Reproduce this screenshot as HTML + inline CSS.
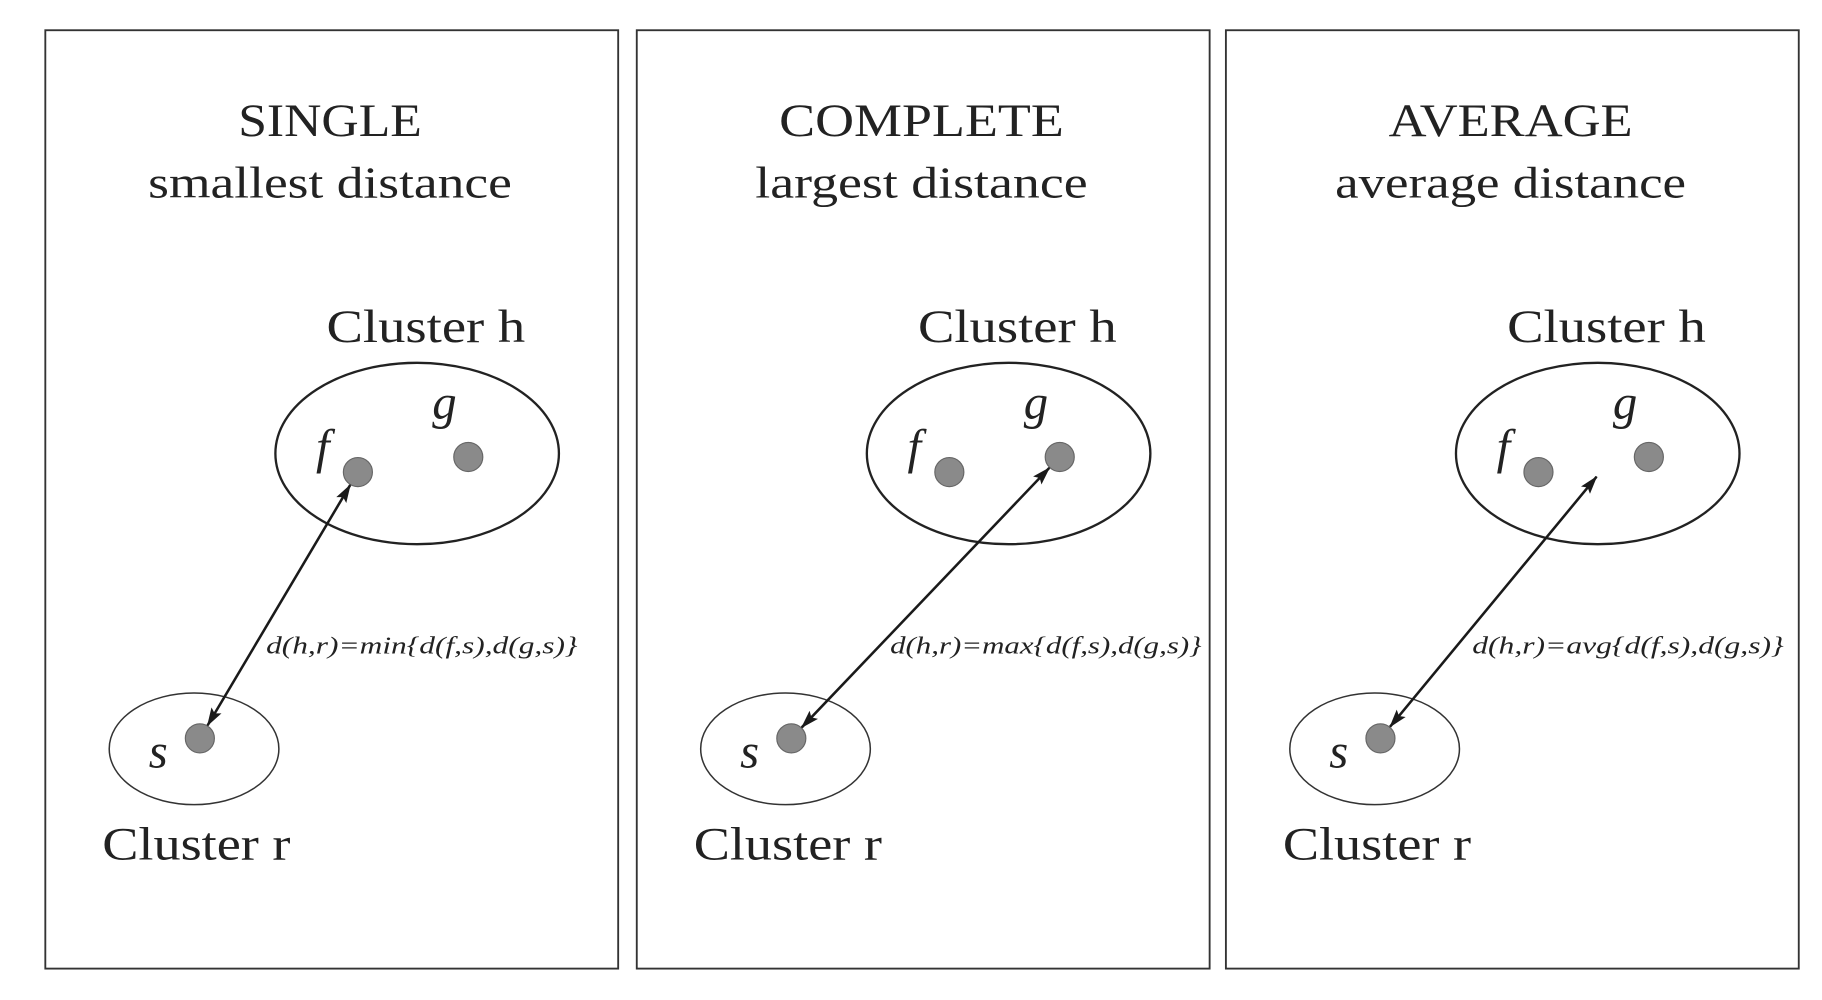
<!DOCTYPE html>
<html><head><meta charset="utf-8"><style>
html,body{margin:0;padding:0;background:#fff;width:1822px;height:1000px;overflow:hidden}
svg{display:block}
text{font-family:"Liberation Serif","DejaVu Serif",serif;fill:#222}
</style></head><body>
<svg id="fig" width="1822" height="1000" viewBox="0 0 1568 860" preserveAspectRatio="none">
<defs>
<marker id="ah" viewBox="0 0 16 10" refX="15" refY="5" markerWidth="16" markerHeight="11" orient="auto-start-reverse" markerUnits="userSpaceOnUse">
<path d="M0,0 L16,5 L0,10 L3,5 z" fill="#1a1a1a"/>
</marker>
</defs>
</svg>
<script>
const titles=["SINGLE","COMPLETE","AVERAGE"];
const subtitles=["smallest distance","largest distance","average distance"];
const funcs=["min","max","avg"];
const panelLefts=[39,548,1055];
const targets=["f","g","mid"];
const titleW=[158,245,210];
const subW=[313,286,302];
const formulaX=[190,218,212];
const svg=document.getElementById('fig');
const NS="http://www.w3.org/2000/svg";
function mk(tag,attrs,txt){const e=document.createElementNS(NS,tag);for(const k in attrs)e.setAttribute(k,attrs[k]);if(txt!==undefined)e.textContent=txt;svg.appendChild(e);return e;}
titles.forEach((t,i)=>{
 const L=panelLefts[i];
 const g=mk('rect',{x:L,y:26,width:493,height:807,fill:'none',stroke:'#333','stroke-width':1.6});
 
 
 let e=mk('text',{x:L+245-titleW[i]/2,y:117,'font-size':40,textLength:titleW[i],lengthAdjust:'spacingAndGlyphs'},t);
 
 
 e=mk('text',{x:L+245-subW[i]/2,y:170,'font-size':38,textLength:subW[i],lengthAdjust:'spacingAndGlyphs'},subtitles[i]);
 
 
 e=mk('text',{x:L+242,y:294,'font-size':40,textLength:171,lengthAdjust:'spacingAndGlyphs'},'Cluster h');
 
 
 e=mk('ellipse',{cx:L+320,cy:390,rx:122,ry:78,fill:'none',stroke:'#222','stroke-width':2});
 
 
 e=mk('ellipse',{cx:L+128,cy:644,rx:73,ry:48,fill:'none',stroke:'#333','stroke-width':1.3});
 
 
 const f={x:L+269,y:406},gg={x:L+364,y:393},s={x:L+133,y:635};
 [[f,'point-f'],[gg,'point-g'],[s,'point-s']].forEach(([p,n])=>{
  e=mk('circle',{cx:p.x,cy:p.y,r:12.5,fill:'#8a8a8a',stroke:'#666','stroke-width':1});
  
  
 });
 e=mk('text',{x:L+233,y:398,'font-size':42,'font-style':'italic'},'f');
 
 
 e=mk('text',{x:L+333,y:360,'font-size':42,'font-style':'italic'},'g');
 
 
 e=mk('text',{x:L+89,y:660,'font-size':42,'font-style':'italic'},'s');
 
 
 e=mk('text',{x:L+49,y:739,'font-size':40,textLength:162,lengthAdjust:'spacingAndGlyphs'},'Cluster r');
 
 
 let tx,ty;
 if(targets[i]==='f'){tx=f.x;ty=f.y;}else if(targets[i]==='g'){tx=gg.x;ty=gg.y;}else{tx=L+319;ty=410;}
 const dx=tx-s.x,dy=ty-s.y,len=Math.hypot(dx,dy);
 const r0=13,r1=targets[i]==='mid'?0:13;
 e=mk('line',{x1:s.x+dx/len*r0,y1:s.y+dy/len*r0,x2:tx-dx/len*r1,y2:ty-dy/len*r1,stroke:'#1a1a1a','stroke-width':2.2,'marker-start':'url(#ah)','marker-end':'url(#ah)'});
 
 
 e=mk('text',{x:L+formulaX[i],y:562,'font-size':21,'font-style':'italic',fill:'#333',textLength:268,lengthAdjust:'spacingAndGlyphs'},'d(h,r)='+funcs[i]+'{d(f,s),d(g,s)}');
 
 
});
</script>
</body></html>
